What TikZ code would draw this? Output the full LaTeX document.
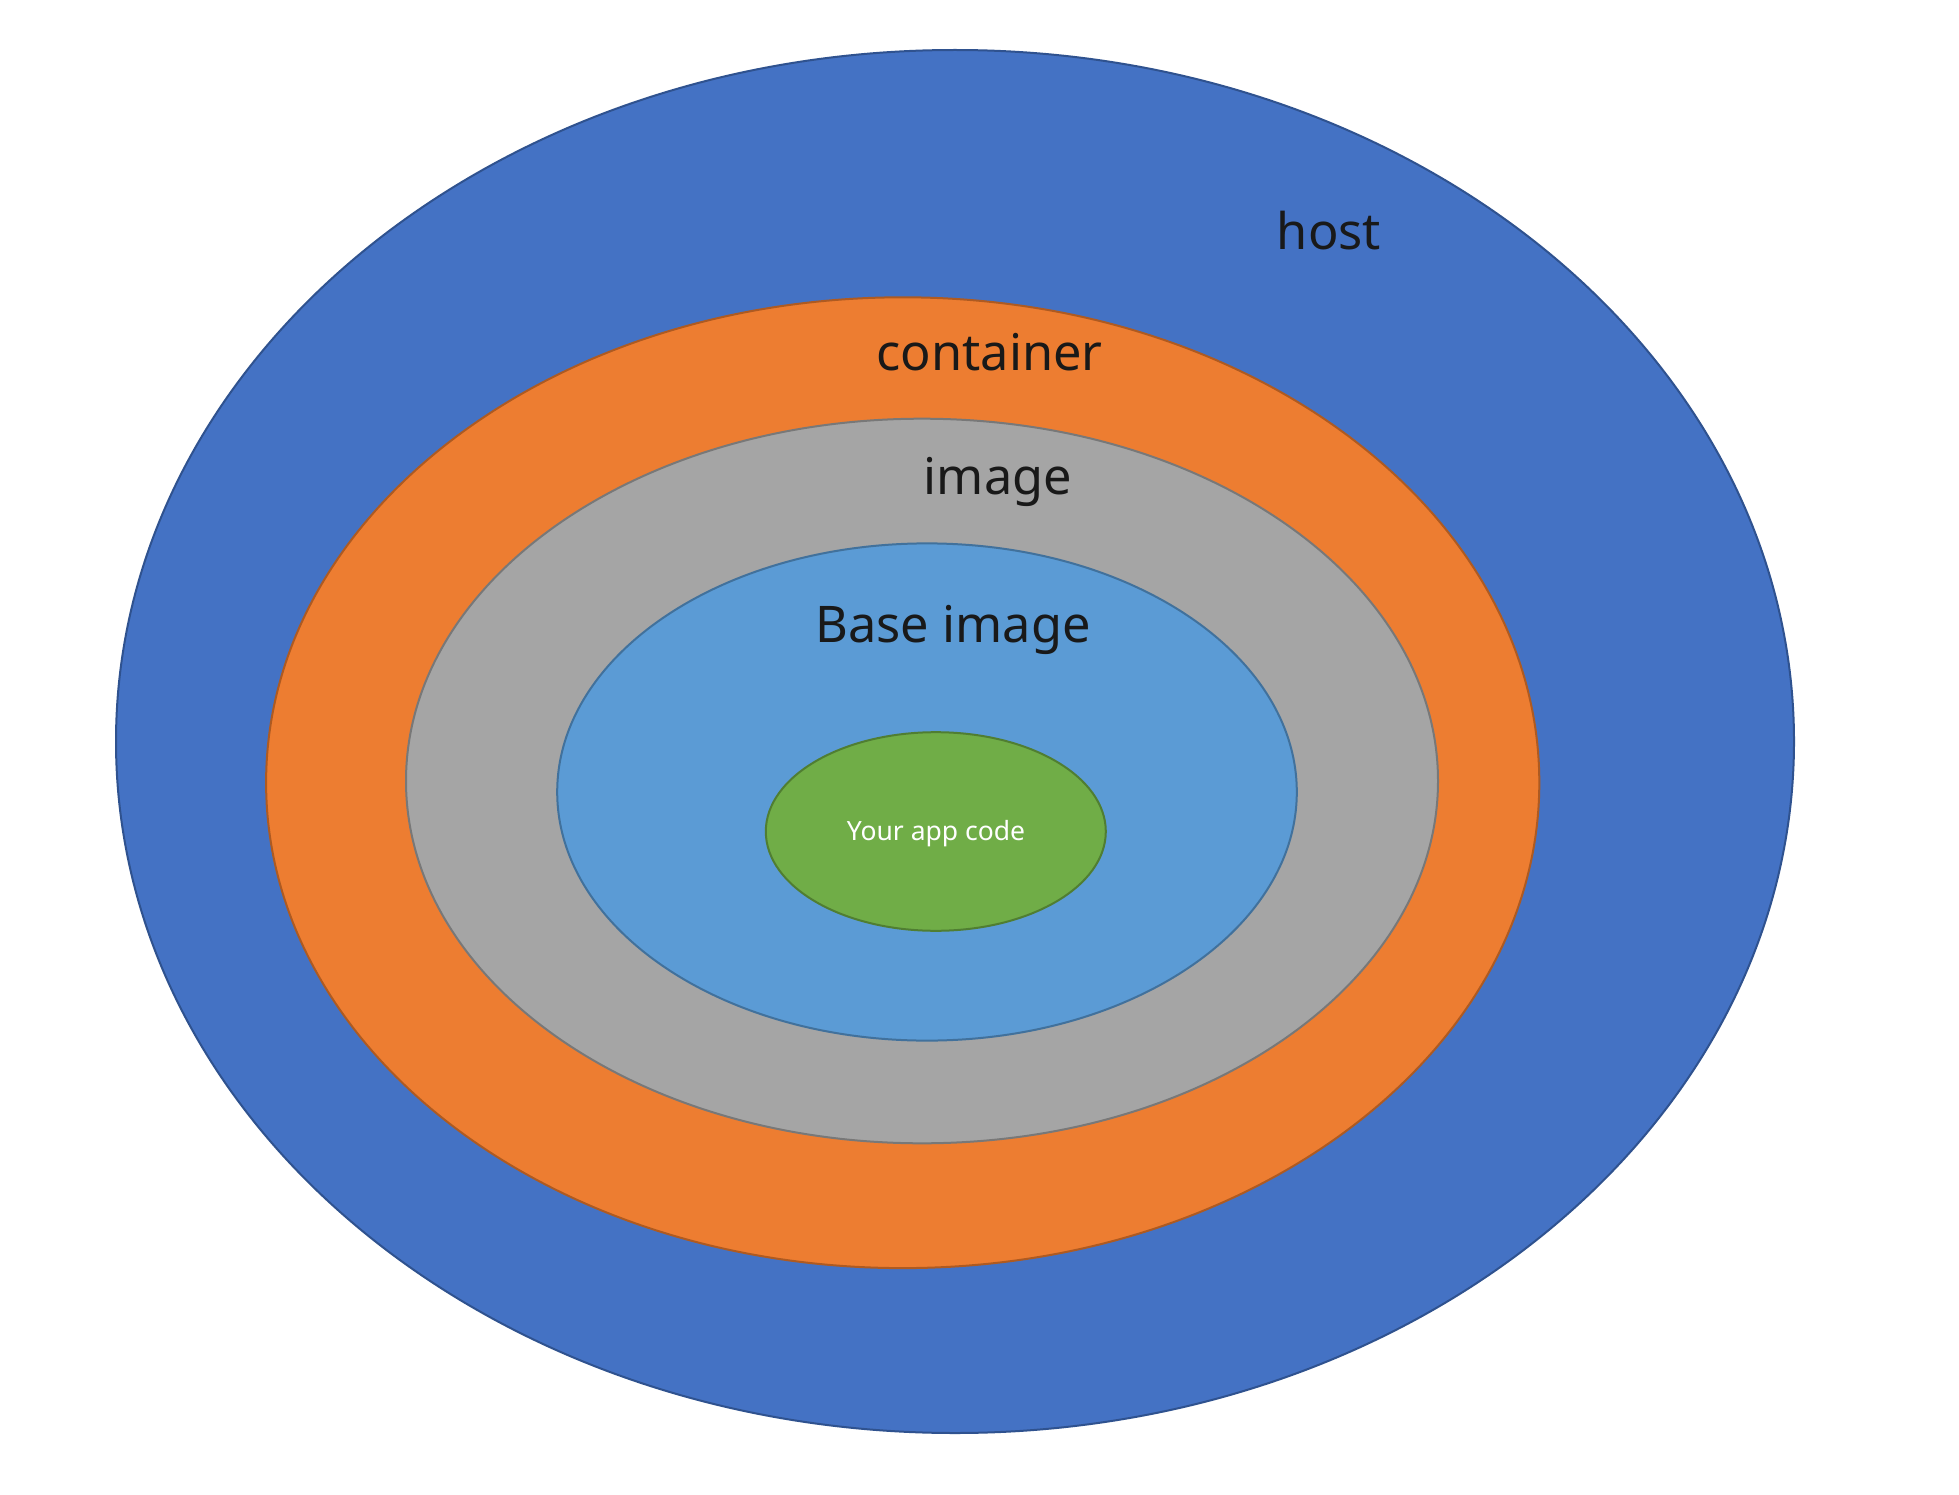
\documentclass[tikz,border=0pt]{standalone}
\usepackage{fontspec}
\setmainfont{Noto Sans}
\usetikzlibrary{shapes.geometric}
\definecolor{hostc}{HTML}{4472C4}
\definecolor{hostd}{HTML}{2F528F}
\definecolor{contc}{HTML}{ED7D31}
\definecolor{contd}{HTML}{AE5A21}
\definecolor{imgc}{HTML}{A5A5A5}
\definecolor{imgd}{HTML}{787878}
\definecolor{basec}{HTML}{5B9BD5}
\definecolor{based}{HTML}{41719C}
\definecolor{appc}{HTML}{70AD47}
\definecolor{appd}{HTML}{507E32}
\tikzset{
  layer/.style={line width=2pt},
  lbl/.style={font=\fontsize{50.5}{58}\selectfont, text=black!90, inner sep=0pt},
}
\begin{document}
\begin{tikzpicture}[x=1pt,y=-1pt]
\useasboundingbox (0,0) rectangle (1959,1495);
\fill[white] (0,0) rectangle (1959,1495);
\draw[layer, fill=hostc, draw=hostd] (955,741.5) ellipse [x radius=839, y radius=691.5];
\draw[layer, fill=contc, draw=contd] (902.7,782.7) ellipse [x radius=636.6, y radius=485.4];
\draw[layer, fill=imgc, draw=imgd] (922,781) ellipse [x radius=516, y radius=362.3];
\draw[layer, fill=basec, draw=based] (927,792) ellipse [x radius=369.8, y radius=248.6];
\draw[layer, fill=appc, draw=appd] (935.8,831.5) ellipse [x radius=170, y radius=99.3];
\node[lbl] (host) at (1329,231) {host};
\node[lbl] (container) at (989.5,352) {container};
\node[lbl] (image) at (998,482) {image};
\node[lbl] (base) at (953,630) {Base image};
\node[lbl, text=white, font=\fontsize{26.5}{30}\selectfont] (app) at (936,834) {Your app code};
\end{tikzpicture}
\end{document}
